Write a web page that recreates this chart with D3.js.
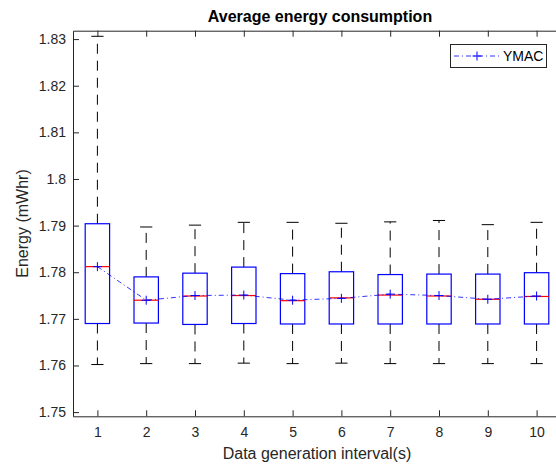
<!DOCTYPE html>
<html>
<head>
<meta charset="utf-8">
<script src="https://cdn.jsdelivr.net/npm/d3@7"></script>
<style>
  body { margin: 0; background: #fff; }
  svg { display: block; font-family: "Liberation Sans", Arial, sans-serif; }
</style>
</head>
<body>
<div id="chart"></div>
<script>
// data (one box per data generation interval)
const intervals = [1, 2, 3, 4, 5, 6, 7, 8, 9, 10];
const whiskerLow = [1.7602, 1.7604, 1.7604, 1.7605, 1.7604, 1.7605, 1.7604, 1.7604, 1.7604, 1.7604];
const q1 = [1.7690, 1.7691, 1.7688, 1.7690, 1.7689, 1.7689, 1.7689, 1.7689, 1.7689, 1.7689];
const medians = [1.7812, 1.7740, 1.7749, 1.7750, 1.7739, 1.7745, 1.7751, 1.7749, 1.7742, 1.7748];
const q3 = [1.7904, 1.7790, 1.7798, 1.7811, 1.7797, 1.7801, 1.7795, 1.7796, 1.7796, 1.7799];
const whiskerHigh = [1.8306, 1.7897, 1.7901, 1.7907, 1.7907, 1.7905, 1.7908, 1.7911, 1.7902, 1.7907];
const means = [1.7812, 1.7740, 1.7750, 1.7751, 1.7740, 1.7744, 1.7753, 1.7750, 1.7742, 1.7749];
const yTicks = [1.75, 1.76, 1.77, 1.78, 1.79, 1.80, 1.81, 1.82, 1.83];
const seriesName = 'YMAC';

const W = 556, H = 464;
const m = {left: 73, right: 561, top: 30.7, bottom: 416.3};
const axisColor = '#262626';

const svg = d3.select('#chart').append('svg')
  .attr('width', W).attr('height', H);
svg.append('rect').attr('width', W).attr('height', H).attr('fill', '#fff');

const x = d3.scaleLinear().domain([0.5, 10.5]).range([m.left, m.right]);
const y = d3.scaleLinear().domain([1.7491, 1.8318]).range([m.bottom, m.top]);

const boxes = intervals.map((k, i) => ({
  k, lo: whiskerLow[i], q1: q1[i], med: medians[i], q3: q3[i], hi: whiskerHigh[i], mean: means[i]
}));

const boxW = x(0.5) - x(0);   // MATLAB default width 0.5
const capW = boxW / 2;

// whiskers (dashed)
const g = svg.append('g').attr('id', 'boxes');
g.selectAll('line.wu').data(boxes).join('line').attr('class', 'wu')
  .attr('x1', d => x(d.k)).attr('x2', d => x(d.k))
  .attr('y1', d => y(d.q3)).attr('y2', d => y(d.hi))
  .attr('stroke', '#000').attr('stroke-width', 1).attr('stroke-dasharray', '10,7');
g.selectAll('line.wl').data(boxes).join('line').attr('class', 'wl')
  .attr('x1', d => x(d.k)).attr('x2', d => x(d.k))
  .attr('y1', d => y(d.q1)).attr('y2', d => y(d.lo))
  .attr('stroke', '#000').attr('stroke-width', 1).attr('stroke-dasharray', '10,7');

// caps
['hi', 'lo'].forEach(key => {
  g.selectAll('line.cap-' + key).data(boxes).join('line').attr('class', 'cap-' + key)
    .attr('x1', d => x(d.k) - capW / 2).attr('x2', d => x(d.k) + capW / 2)
    .attr('y1', d => y(d[key])).attr('y2', d => y(d[key]))
    .attr('stroke', '#000').attr('stroke-width', 1);
});

// boxes
g.selectAll('rect').data(boxes).join('rect')
  .attr('x', d => x(d.k) - boxW / 2).attr('width', boxW)
  .attr('y', d => y(d.q3)).attr('height', d => y(d.q1) - y(d.q3))
  .attr('fill', 'none').attr('stroke', '#0000ff').attr('stroke-width', 1.2);

// medians
g.selectAll('line.med').data(boxes).join('line').attr('class', 'med')
  .attr('x1', d => x(d.k) - boxW / 2).attr('x2', d => x(d.k) + boxW / 2)
  .attr('y1', d => y(d.med)).attr('y2', d => y(d.med))
  .attr('stroke', '#ff0000').attr('stroke-width', 1.2);

// mean line, dash-dot with + markers
const line = d3.line().x(d => x(d.k)).y(d => y(d.mean));
svg.append('path').datum(boxes)
  .attr('d', line).attr('fill', 'none')
  .attr('stroke', '#0000ff').attr('stroke-width', 0.8).attr('stroke-dasharray', '5,3,1,3');

const plus = (sel, cx, cy, r) => {
  sel.append('path')
    .attr('d', `M${cx - r},${cy}H${cx + r}M${cx},${cy - r}V${cy + r}`)
    .attr('stroke', '#0000ff').attr('stroke-width', 1).attr('fill', 'none');
};
const mk = svg.append('g').attr('id', 'mean-markers');
boxes.forEach(d => plus(mk, x(d.k), y(d.mean), 4.5));

// axes
const fontTick = 14;
// MATLAB style labels: 1.8 not 1.80
const fmtY = d => String(+d.toFixed(2));
const yAxis = d3.axisLeft(y).tickValues(yTicks).tickFormat(fmtY)
  .tickSizeInner(-6).tickSizeOuter(0).tickPadding(7);
const xAxis = d3.axisBottom(x).tickValues(intervals).tickFormat(d3.format('d'))
  .tickSizeInner(-6).tickSizeOuter(0).tickPadding(11);
const xTop = d3.axisTop(x).tickValues(intervals).tickFormat('')
  .tickSizeInner(-6).tickSizeOuter(0);

const styleAxis = a => {
  a.selectAll('path, line').attr('stroke', axisColor);
  a.selectAll('text').attr('fill', axisColor).attr('font-size', fontTick)
    .attr('font-family', '"Liberation Sans", Arial, sans-serif');
};
svg.append('g').attr('transform', `translate(${m.left},0)`).call(yAxis).call(styleAxis);
svg.append('g').attr('transform', `translate(0,${m.bottom})`).call(xAxis).call(styleAxis);
svg.append('g').attr('transform', `translate(0,${m.top})`).call(xTop).call(styleAxis);

// labels
svg.append('text').text('Average energy consumption')
  .attr('x', 320).attr('y', 22).attr('text-anchor', 'middle')
  .attr('font-size', 16).attr('font-weight', 'bold').attr('fill', '#000');
svg.append('text').text('Data generation interval(s)')
  .attr('x', (m.left + m.right) / 2).attr('y', 459).attr('text-anchor', 'middle')
  .attr('font-size', 16).attr('fill', axisColor);
svg.append('text').text('Energy (mWhr)')
  .attr('transform', `translate(28,${(m.top + m.bottom) / 2}) rotate(-90)`)
  .attr('text-anchor', 'middle').attr('font-size', 16).attr('fill', axisColor);

// legend
const lg = svg.append('g').attr('id', 'legend');
lg.append('rect').attr('x', 450.5).attr('y', 44.5).attr('width', 96).attr('height', 23)
  .attr('fill', '#fff').attr('stroke', axisColor).attr('stroke-width', 1);
lg.append('line').attr('x1', 454).attr('x2', 499).attr('y1', 56).attr('y2', 56)
  .attr('stroke', '#0000ff').attr('stroke-width', 0.8).attr('stroke-dasharray', '5,3,1,3');
plus(lg, 477, 56, 4.5);
lg.append('text').text(seriesName).attr('x', 503).attr('y', 61)
  .attr('font-size', 14).attr('fill', '#000');
</script>
</body>
</html>
